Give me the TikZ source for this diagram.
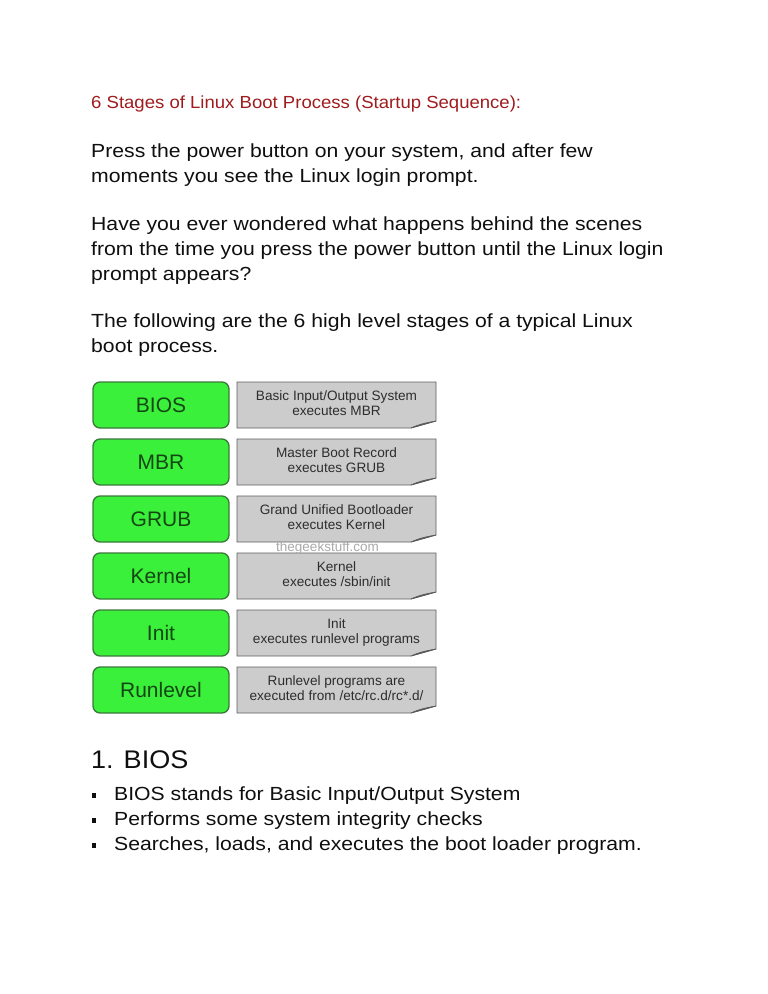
\documentclass[tikz,border=0pt]{standalone}
\usepackage{fontspec}
\setmainfont{Liberation Sans}
\newfontfamily\bodyfont[FakeStretch=1.115]{Liberation Sans}
\newfontfamily\headfont[FakeStretch=1.06]{Liberation Sans}
\newfontfamily\titlefont[FakeStretch=1.06]{Liberation Sans}
\definecolor{gfill}{RGB}{58,240,58}
\definecolor{gborder}{RGB}{60,120,60}
\definecolor{gtext}{RGB}{20,70,20}
\definecolor{grayfill}{RGB}{204,204,204}
\definecolor{grayborder}{RGB}{95,95,95}
\definecolor{graytxt}{RGB}{45,45,45}
\definecolor{folddark}{RGB}{90,90,90}
\definecolor{titlered}{RGB}{160,28,30}
\definecolor{bodyc}{RGB}{15,15,15}
\definecolor{wmark}{RGB}{170,170,170}
\newcommand\stagerow[5]{%
  \node[greenbox] (#1) at (161,#2+23) {#3};
  \draw[graybox] (237,#2) -- (436,#2) -- (436,#2+39) -- (411,#2+46) -- (237,#2+46) -- cycle;
  \filldraw[fold] (436,#2+39) -- (411,#2+46) .. controls (419,#2+42) and (427,#2+40.5) .. (436,#2+39) -- cycle;
  \node[graytext] (#1a) at (336.5,#2+18) {#4};
  \node[graytext] (#1b) at (336.5,#2+33) {#5};
}
\begin{document}
\begin{tikzpicture}[x=1pt,y=-1pt,
  title/.style={anchor=base west, inner sep=0pt, text=titlered, font=\titlefont\fontsize{17.5}{21}\selectfont},
  body/.style={anchor=base west, inner sep=0pt, text=bodyc, font=\bodyfont\fontsize{19}{25}\selectfont},
  heading/.style={anchor=base west, inner sep=0pt, text=bodyc, font=\headfont\fontsize{25.5}{30}\selectfont},
  greenbox/.style={draw=gborder, line width=1.3pt, fill=gfill, rounded corners=7pt, minimum width=136pt, minimum height=46pt, inner sep=0pt, text=gtext, font=\fontsize{21}{25}\selectfont},
  graytext/.style={anchor=base, inner sep=0pt, text=graytxt, font=\fontsize{13.6}{15}\selectfont},
  graybox/.style={draw=grayborder, line width=0.9pt, fill=grayfill},
  fold/.style={fill=folddark, draw=folddark, line width=0.5pt},
  bulletsq/.style={fill=bodyc, draw=none, minimum size=4.3pt, inner sep=0pt}
]
\fill[white] (0,0) rectangle (768,994);
\useasboundingbox (0,0) rectangle (768,994);

\node[title] (ttl) at (91,108.5) {6 Stages of Linux Boot Process (Startup Sequence):};

\node[body] (p1a) at (91,157.5) {Press the power button on your system, and after few};
\node[body] (p1b) at (91,182.5) {moments you see the Linux login prompt.};
\node[body] (p2a) at (91,230.5) {Have you ever wondered what happens behind the scenes};
\node[body] (p2b) at (91,255.5) {from the time you press the power button until the Linux login};
\node[body] (p2c) at (91,280.5) {prompt appears?};
\node[body] (p3a) at (91,327.5) {The following are the 6 high level stages of a typical Linux};
\node[body] (p3b) at (91,352) {boot process.};

\stagerow{bios}{382}{BIOS}{Basic Input/Output System}{executes MBR}
\stagerow{mbr}{439}{MBR}{Master Boot Record}{executes GRUB}
\stagerow{grub}{496}{GRUB}{Grand Unified Bootloader}{executes Kernel}
\stagerow{kern}{553}{Kernel}{Kernel}{executes /sbin/init}
\stagerow{init}{610}{Init}{Init}{executes runlevel programs}
\stagerow{rlev}{667}{Runlevel}{Runlevel programs are}{executed from /etc/rc.d/rc*.d/}

\node[anchor=base, inner sep=0pt, text=wmark, font=\fontsize{13.5}{16}\selectfont] (wm) at (327.5,551) {thegeekstuff.com};

\node[heading] (h1) at (91,768) {1. BIOS};

\node[bulletsq] (s1) at (94,795.5) {};
\node[body] (b1) at (114,800.7) {BIOS stands for Basic Input/Output System};
\node[bulletsq] (s2) at (94,820.5) {};
\node[body] (b2) at (114,825.7) {Performs some system integrity checks};
\node[bulletsq] (s3) at (94,845.5) {};
\node[body] (b3) at (114,850.7) {Searches, loads, and executes the boot loader program.};
\end{tikzpicture}
\end{document}
